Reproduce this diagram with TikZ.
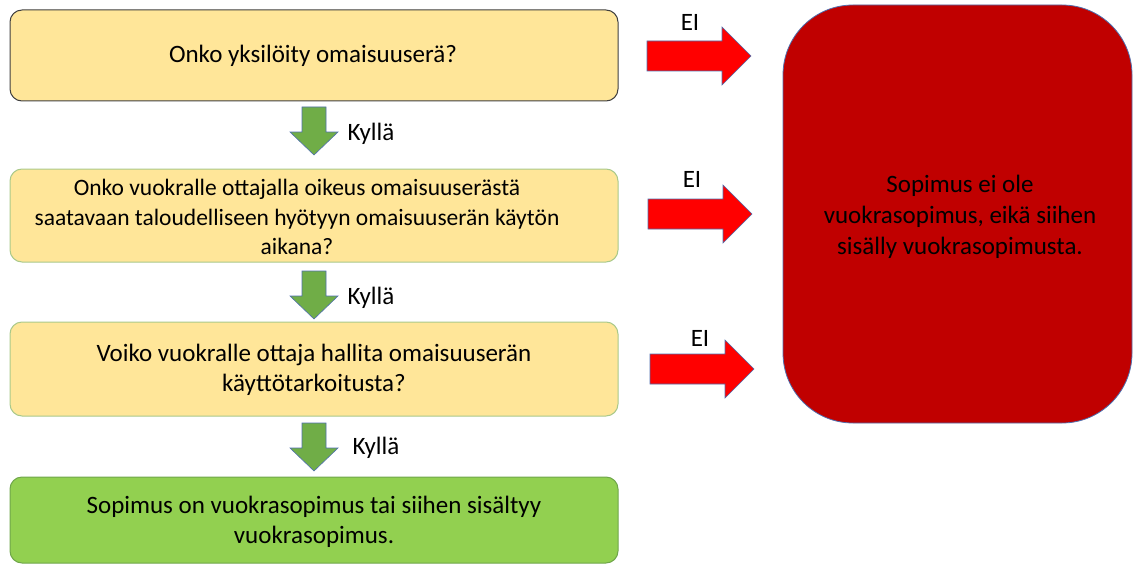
\documentclass[tikz,border=0pt]{standalone}
\usepackage{fontspec}
\setmainfont{Carlito}
\definecolor{qyellow}{HTML}{FFE699}
\definecolor{qgreenline}{HTML}{A9C98A}
\definecolor{resgreen}{HTML}{92D050}
\definecolor{resgreenline}{HTML}{6FA64A}
\definecolor{nored}{HTML}{C00000}
\definecolor{arrred}{HTML}{FF0000}
\definecolor{arrgreen}{HTML}{70AD47}
\definecolor{arrline}{HTML}{4F6FAF}
\begin{document}
\begin{tikzpicture}[x=1pt,y=-1pt,
  txt/.style={font=\fontsize{25}{30}\selectfont,align=center,text=black},
  smalltxt/.style={font=\fontsize{23.5}{29.5}\selectfont,align=center,text=black},
  qbox/.style={draw=qgreenline,fill=qyellow,rounded corners=12pt,line width=1pt},
  redarrow/.style={draw=arrline,fill=arrred,line width=0.6pt,line join=miter},
  greenarrow/.style={draw=arrline,fill=arrgreen,line width=0.6pt,line join=miter}]
\useasboundingbox (0,0) rectangle (1134,567);
% question boxes
\draw[qbox,draw=black!75] (10,10) rectangle (618,101);
\node[txt] (q1) at (313,56) {Onko yksilöity omaisuuserä?};
\draw[qbox] (10,169) rectangle (618,262);
\node[smalltxt] (q2) at (297,217) {Onko vuokralle ottajalla oikeus omaisuuserästä\\saatavaan taloudelliseen hyötyyn omaisuuserän käytön\\aikana?};
\draw[qbox] (10,322) rectangle (618,416);
\node[txt] (q3) at (314,370) {Voiko vuokralle ottaja hallita omaisuuserän\\käyttötarkoitusta?};
\draw[qbox,draw=resgreenline,fill=resgreen] (10,477) rectangle (618,563);
\node[txt] (yes) at (314,522) {Sopimus on vuokrasopimus tai siihen sisältyy\\vuokrasopimus.};
% red result box
\draw[draw=arrline,fill=nored,rounded corners=70pt,line width=0.8pt] (783,5) rectangle (1132,423);
\node[txt,font=\fontsize{25}{31}\selectfont] (no) at (960,217) {Sopimus ei ole\\vuokrasopimus, eikä siihen\\sisälly vuokrasopimusta.};
% red arrows
\foreach \yy/\xx in {56/0,214/1,369/3}{
  \draw[redarrow] (647+\xx,\yy-15) -- (722+\xx,\yy-15) -- (722+\xx,\yy-29) -- (751+\xx,\yy) -- (722+\xx,\yy+29) -- (722+\xx,\yy+15) -- (647+\xx,\yy+15) -- cycle;
}
\node[txt,anchor=base] (ei1) at (690,31) {EI};
\node[txt,anchor=base] (ei2) at (692,187) {EI};
\node[txt,anchor=base] (ei3) at (700,346) {EI};
% green arrows
\foreach \yy/\cx in {107/314,271/314,423/314}{
  \draw[greenarrow] (\cx-12,\yy) -- (\cx+12,\yy) -- (\cx+12,\yy+25) -- (\cx+24,\yy+25) -- (\cx,\yy+48) -- (\cx-24,\yy+25) -- (\cx-12,\yy+25) -- cycle;
}
\node[txt,anchor=west] (k1) at (344,134) {Kyllä};
\node[txt,anchor=west] (k2) at (344,298) {Kyllä};
\node[txt,anchor=west] (k3) at (349,448) {Kyllä};
\end{tikzpicture}
\end{document}
